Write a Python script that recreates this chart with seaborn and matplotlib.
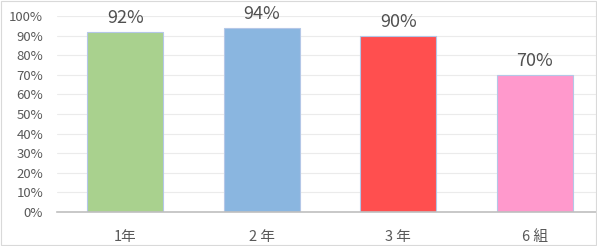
import matplotlib
matplotlib.use("Agg")
import matplotlib.pyplot as plt
import seaborn as sns
import pandas as pd
from matplotlib.ticker import PercentFormatter

# Chart data
groups = ["1年", "2 年", "3 年", "6 組"]
rates = [92, 94, 90, 70]
bar_colors = ["#A9D18E", "#8AB6E0", "#FF4F4F", "#FF99CC"]

sns.set_theme(style="white")
plt.rcParams['font.family'] = ['Noto Sans CJK JP', 'DejaVu Sans']

df = pd.DataFrame({"group": groups, "rate": rates})

fig = plt.figure(figsize=(5.97, 2.46), dpi=100)
ax = fig.add_axes([57 / 597, 1 - 212 / 246, 540 / 597, 196 / 246])

sns.barplot(data=df, x="group", y="rate", hue="group", palette=bar_colors,
            width=0.556, edgecolor="#B4C7E7", linewidth=0.8, legend=False,
            saturation=1, ax=ax)

ax.set_ylim(0, 100)
ax.set_xlim(-0.5, -0.5 + 540 / 136.5)
ax.set_yticks(range(0, 101, 10))
ax.yaxis.set_major_formatter(PercentFormatter(decimals=0))
ax.grid(axis="y", color="#EBEBEB", linewidth=0.8)
ax.set_axisbelow(True)
for s in ["top", "right", "left"]:
    ax.spines[s].set_visible(False)
ax.spines["bottom"].set_color("#BFBFBF")
ax.spines["bottom"].set_linewidth(1.2)
ax.set_xlabel("")
ax.set_ylabel("")
ax.tick_params(axis="y", labelsize=9.5, colors="#595959", length=0, pad=10)
ax.tick_params(axis="x", labelsize=10.5, colors="#595959", length=0, pad=13)

for i, v in enumerate(rates):
    ax.text(i, v + 2.5, f"{v}%", ha="center", va="bottom", fontsize=13, color="#505050")

fig.patches.append(plt.Rectangle((0.002, 0.004), 0.996, 0.992, transform=fig.transFigure,
                                 fill=False, edgecolor="#D9D9D9", linewidth=0.8))

fig.savefig("out.png", dpi=100)
